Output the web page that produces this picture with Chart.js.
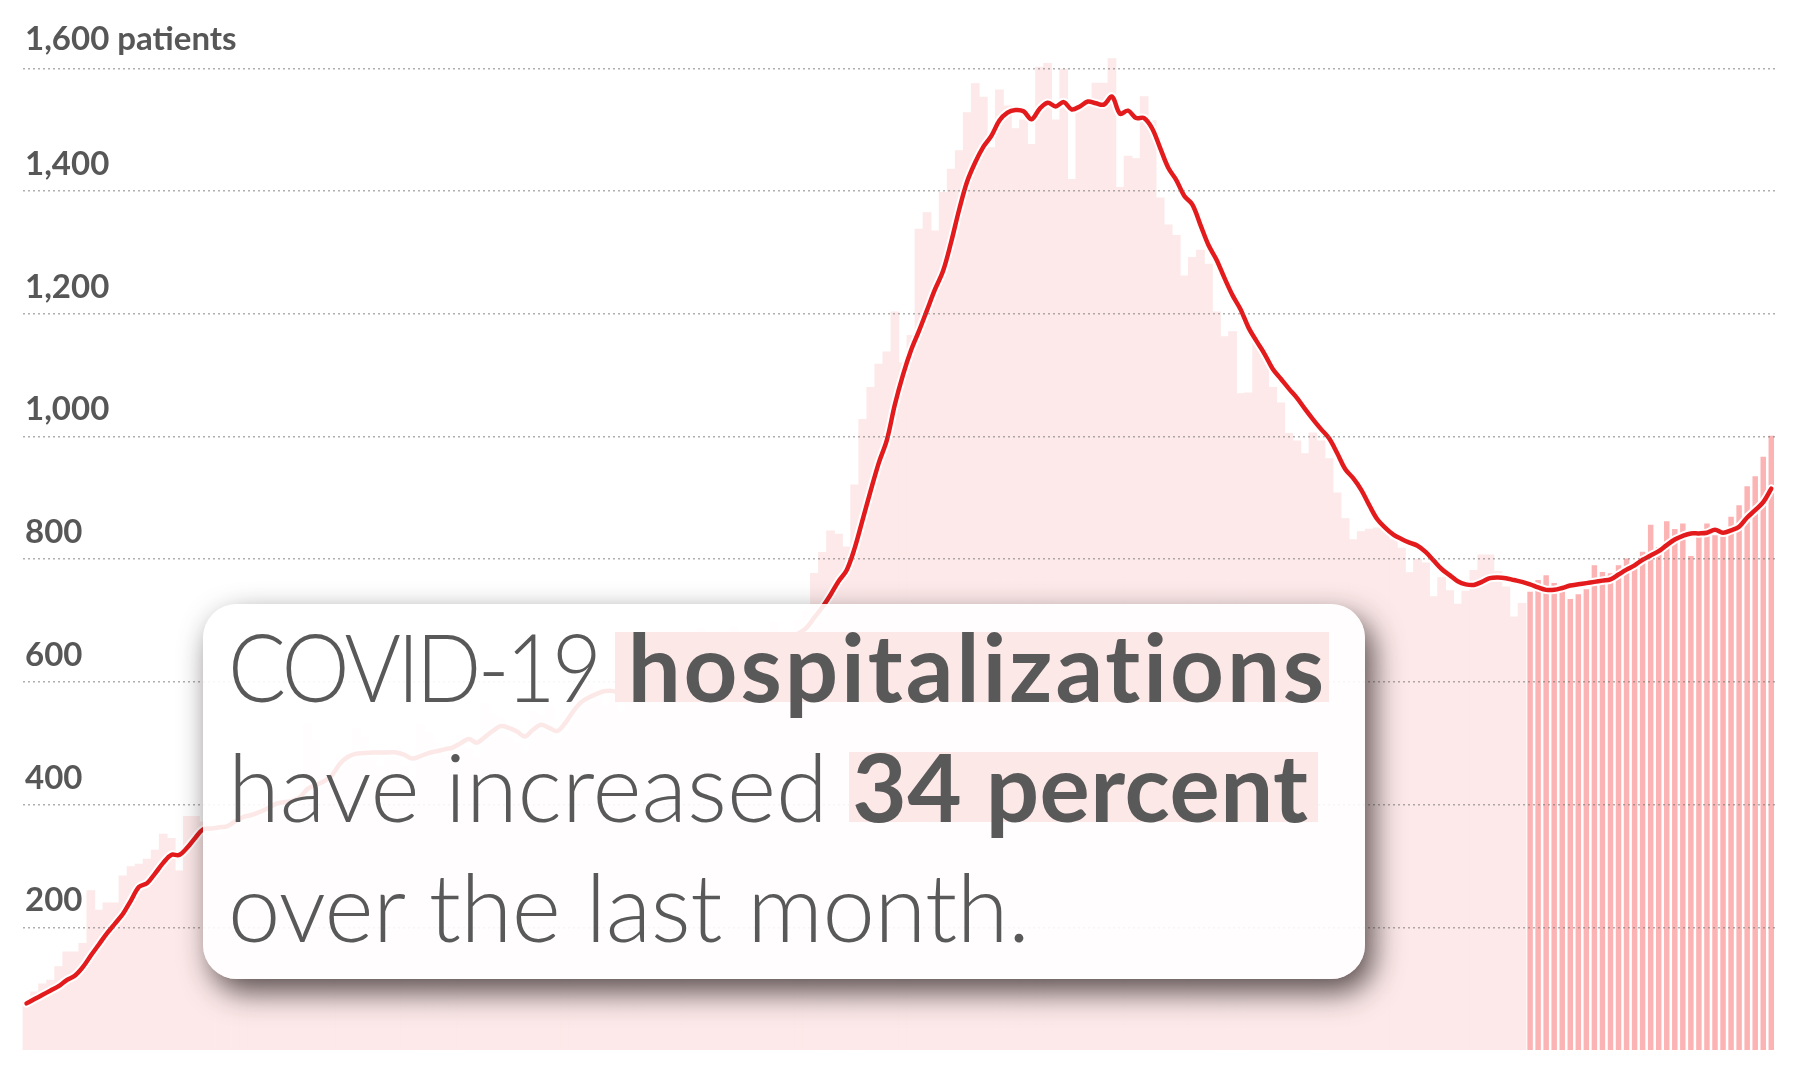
<!DOCTYPE html>
<html><head><meta charset="utf-8">
<script src="https://cdn.jsdelivr.net/npm/chart.js@4.4.0/dist/chart.umd.min.js"></script>
<style>
html,body{margin:0;padding:0;background:#fff;}
#wrap{position:relative;width:1800px;height:1080px;overflow:hidden;}
#c{position:absolute;left:0;top:0;}
#box{position:absolute;left:203px;top:604px;width:1162px;height:375px;box-sizing:border-box;background:rgba(255,255,255,0.9);border-radius:34px;box-shadow:8px 13px 30px rgba(35,25,25,0.75);padding:2px 0 0 25px;font-family:Lato,sans-serif;font-weight:300;font-size:94px;line-height:120px;color:#595959;white-space:nowrap;font-variant-ligatures:none;}
.caps{display:inline-block;letter-spacing:-4px;transform:scaleX(0.915);transform-origin:0 0;margin-right:-34px;}
.l3{letter-spacing:-0.45px;}
.hl{font-weight:700;background:linear-gradient(to bottom,transparent 0.24em,#fde8e8 0.24em,#fde8e8 0.99em,transparent 0.99em);}
.hl1{margin-left:16px;padding:0 2px 0 13px;letter-spacing:2.9px;}
.hl2{margin-left:-4px;padding:0 9px 0 3px;letter-spacing:0.5px;}
</style></head>
<body><div id="wrap"><canvas id="c" width="1800" height="1080"></canvas>
<div id="box"><span class="caps">COVID-19</span><span class="hl hl1">hospitalizations</span><br>have increased <span class="hl hl2">34 percent</span><br><span class="l3">over the last month.</span></div></div>
<script>
// Daily patients hospitalized (bars)
const dailyPatients = [
80,95,108,114,136,160,160,174,260,228,
240,240,284,299,303,311,326,352,345,292,
381,381,
372,358,350,366,392,395,378,380,404,418,
410,395,408,532,505,452,440,478,470,524,
510,480,462,476,495,462,440,530,517,500,
488,470,512,490,476,565,548,540,510,500,
488,552,545,560,505,520,590,604,596,575,
560,588,551,570,602,618,612,598,630,640,
628,652,687,680,640,662,690,676,650,668,
682,697,670,682,700,715,
777,811,846,841,820,921,1028,1080,1118,1138,
1203,1120,1165,1338,1365,1335,1398,1436,1466,1528,
1575,1553,1471,1565,1539,1502,1516,1476,1602,1608,
1516,1599,1419,1538,1538,1576,1576,1616,1406,1457,
1453,1554,1515,1389,1345,1328,1262,1292,1304,1281,
1203,1163,1171,1070,1071,1152,1127,1080,1055,1005,
993,972,1006,993,964,908,866,832,845,849,
851,845,832,818,778,800,794,739,770,749,
727,748,782,807,807,780,755,706,728,
747,766,774,761,758,735,743,751,790,779,
777,790,801,794,812,856,820,862,849,858,
805,836,858,839,837,869,888,919,935,967,1001
];
// Seven-day average (line)
const averagePatients = [
76,83,90,97,104,114,121,135,154,172,
190,206,222,244,266,272,288,305,318,318,
330,346,360,361,363,365,373,380,383,388,
394,401,404,406,412,426,432,438,448,467,
478,483,484,485,485,485,485,481,475,479,
484,487,490,493,500,507,501,510,520,528,
525,519,511,522,530,525,520,533,552,567,
575,581,585,585,580,576,577,584,593,601,
609,616,625,632,638,642,641,648,656,660,
661,663,666,669,671,672,679,688,705,722,
742,764,782,818,865,912,957,994,1052,1100,
1140,1172,1206,1240,1270,1317,1370,1416,1447,1472,
1490,1515,1528,1532,1530,1517,1534,1544,1538,1545,
1533,1538,1546,1543,1541,1554,1526,1531,1519,1519,
1502,1470,1438,1418,1392,1378,1345,1312,1288,1258,
1230,1207,1177,1155,1134,1110,1094,1078,1063,1045,
1028,1012,997,973,947,932,913,888,865,851,
840,833,827,822,812,798,784,774,764,759,
758,763,769,770,769,766,763,759,754,750,
750,753,757,759,761,763,765,767,775,783,
790,799,806,813,823,832,838,842,842,843,
848,843,847,853,868,880,893,915
];
const lastMonthDays = 31;
const dayLabels = dailyPatients.map((_, i) => 'Day ' + (i + 1));
const tickValues = [200, 400, 600, 800, 1000, 1200, 1400, 1600];
const tickLabels = ['200', '400', '600', '800', '1,000', '1,200', '1,400', '1,600 patients'];

const splitAt = dailyPatients.length - lastMonthDays;
const earlierBars = dailyPatients.map((v, i) => i < splitAt ? v : null);
const recentBars = dailyPatients.map((v, i) => i >= splitAt ? v : null);

const tickLabelPlugin = {
  id: 'tickLabelPlugin',
  afterDatasetsDraw(chart) {
    const ctx = chart.ctx, y = chart.scales.y, left = chart.chartArea.left;
    ctx.save();
    ctx.font = '700 33px Lato, sans-serif';
    ctx.fillStyle = '#575757';
    ctx.textAlign = 'left';
    ctx.textBaseline = 'alphabetic';
    tickValues.forEach((v, i) => {
      const lift = (i === tickValues.length - 1) ? 18 : 16;
      ctx.fillText(tickLabels[i], left + 2.5, y.getPixelForValue(v) - lift);
    });
    ctx.restore();
  }
};

new Chart(document.getElementById('c'), {
  type: 'bar',
  data: {
    labels: dayLabels,
    datasets: [
      { type: 'line', data: averagePatients, borderColor: '#e31b1d', borderWidth: 4.5,
        pointRadius: 0, tension: 0.35, borderCapStyle: 'round', borderJoinStyle: 'round', order: 0 },
      { type: 'line', data: averagePatients, borderColor: '#ffffff', borderWidth: 8.5,
        pointRadius: 0, tension: 0.35, borderCapStyle: 'round', borderJoinStyle: 'round', order: 1 },
      { data: recentBars, backgroundColor: '#fcb3b3', barPercentage: 0.68, categoryPercentage: 1,
        grouped: false, order: 2 },
      { data: earlierBars, backgroundColor: '#fde9e9', barPercentage: 1, categoryPercentage: 1,
        grouped: false, order: 3 }
    ]
  },
  options: {
    responsive: false,
    animation: false,
    devicePixelRatio: 1,
    layout: { padding: { left: 22.5, right: 24.7, top: 7, bottom: 30 } },
    plugins: { legend: { display: false }, tooltip: { enabled: false } },
    scales: {
      x: { display: false },
      y: {
        min: 0, max: 1700,
        afterBuildTicks: axis => { axis.ticks = tickValues.map(v => ({ value: v })); },
        ticks: { display: false },
        border: { display: false, dash: [2, 3] },
        grid: { color: 'rgba(110,110,110,0.55)', lineWidth: 1.5, drawTicks: false, z: 1 }
      }
    }
  },
  plugins: [tickLabelPlugin]
});
</script>
</body></html>
